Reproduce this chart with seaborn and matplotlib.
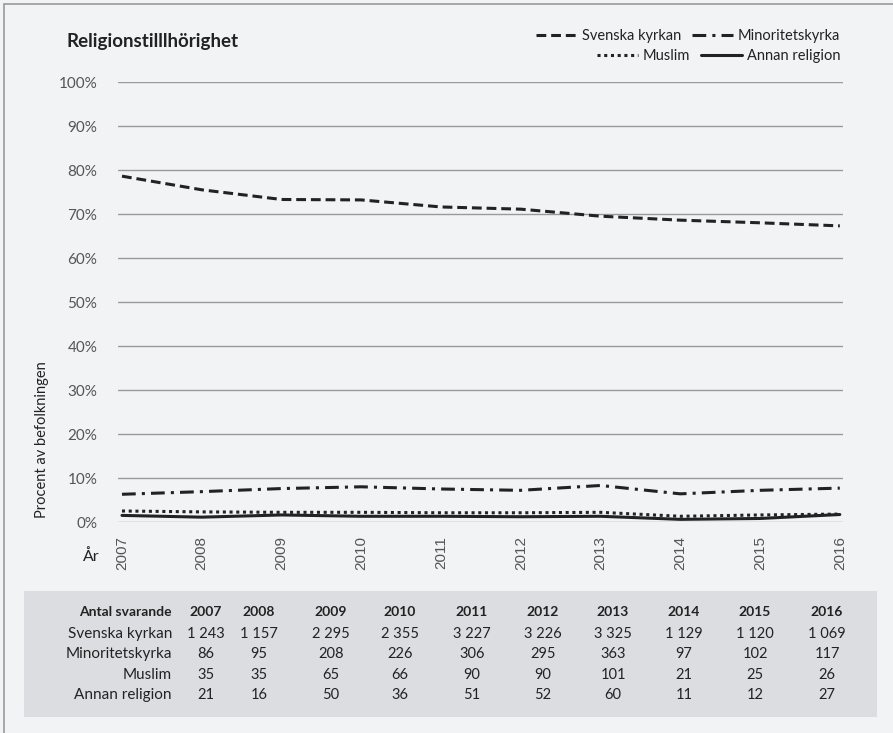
import numpy as np
import pandas as pd
import matplotlib
matplotlib.use("Agg")
import matplotlib.pyplot as plt
import seaborn as sns
from matplotlib.patches import Rectangle
from matplotlib.lines import Line2D

# ------------------------------------------------------------
# Data
# ------------------------------------------------------------
years = [2007, 2008, 2009, 2010, 2011, 2012, 2013, 2014, 2015, 2016]

svenska_kyrkan = [78.6, 75.5, 73.3, 73.2, 71.6, 71.1, 69.5, 68.6, 68.0, 67.3]
minoritetskyrka = [6.3, 6.9, 7.6, 8.0, 7.5, 7.2, 8.3, 6.4, 7.2, 7.7]
muslim = [2.5, 2.3, 2.2, 2.2, 2.1, 2.1, 2.2, 1.3, 1.6, 1.8]
annan_religion = [1.5, 1.1, 1.6, 1.3, 1.3, 1.2, 1.3, 0.6, 0.8, 1.7]

series_names = ["Svenska kyrkan", "Minoritetskyrka", "Muslim", "Annan religion"]

# Number of respondents (table under the chart)
n_svenska = ["1 243", "1 157", "2 295", "2 355", "3 227", "3 226", "3 325", "1 129", "1 120", "1 069"]
n_minoritet = ["86", "95", "208", "226", "306", "295", "363", "97", "102", "117"]
n_muslim = ["35", "35", "65", "66", "90", "90", "101", "21", "25", "26"]
n_annan = ["21", "16", "50", "36", "51", "52", "60", "11", "12", "27"]

y_ticks = list(range(0, 101, 10))

# ------------------------------------------------------------
# Styling
# ------------------------------------------------------------
sns.set_theme(style="white")
plt.rcParams["font.family"] = ["Lato", "DejaVu Sans"]

BG = "#f2f3f5"
TABLE_BG = "#dcdde0"
GRID = "#9a9a9a"
INK = "#222222"
TICK = "#555555"

df = pd.DataFrame({
    "year": years * 4,
    "value": svenska_kyrkan + minoritetskyrka + muslim + annan_religion,
    "serie": sum([[s] * len(years) for s in series_names], []),
})

dash_map = {
    "Svenska kyrkan": (3.2, 1.6),
    "Minoritetskyrka": (4.5, 2.0, 1.0, 2.0),
    "Muslim": (1.0, 1.2),
    "Annan religion": "",
}

W, H = 893, 733
fig = plt.figure(figsize=(W / 100, H / 100), dpi=100)
fig.patch.set_facecolor(BG)

# outer border (left/top visible)
fig.patches.append(Rectangle((4 / W, -0.1), 1.2, (H - 4) / H + 0.1,
                             transform=fig.transFigure, fill=False,
                             edgecolor="#999999", lw=1.2, zorder=0))

ax = fig.add_axes([118 / W, 1 - 522 / H, (843 - 118) / W, (522 - 82) / H])
ax.set_facecolor(BG)

sns.lineplot(data=df, x="year", y="value", hue="serie", style="serie",
             palette=[INK] * 4, dashes=dash_map, linewidth=2.2,
             legend=False, ax=ax)

ax.set_xlim(2006.95, 2016.04)
ax.set_ylim(0, 100)
ax.set_yticks(y_ticks)
ax.set_yticklabels([f"{t}%" for t in y_ticks], fontsize=11, color=TICK)
ax.set_xticks(years)
ax.set_xticklabels([str(y) for y in years], rotation=90, fontsize=11,
                   color=TICK, family=["Liberation Sans", "DejaVu Sans"])
ax.tick_params(axis="y", length=0, pad=15)
ax.tick_params(axis="x", length=0, pad=10)
ax.grid(axis="y", color=GRID, lw=1)
ax.set_axisbelow(True)
for s in ax.spines.values():
    s.set_visible(False)
ax.set_xlabel("")
ax.set_ylabel("")

# title, axis labels
fig.text(66 / W, 1 - 41 / H, "Religionstilllhörighet", fontsize=13.5,
         fontweight="bold", color=INK, va="center", ha="left")
fig.text(42 / W, 1 - 440 / H, "Procent av befolkningen", rotation=90,
         fontsize=10.5, color=INK, ha="center", va="center")
fig.text(91 / W, 1 - 557 / H, "År", fontsize=11.5, color=INK,
         ha="center", va="center")

# legend (two right-aligned rows)
def handle(name):
    d = dash_map[name]
    ls = "-" if d == "" else (0, d)
    return Line2D([0], [0], color=INK, lw=2.2, linestyle=ls)

leg_kw = dict(ncol=2, frameon=False, fontsize=10.5, handlelength=2.8,
              handletextpad=0.3, columnspacing=0.8, borderaxespad=0,
              borderpad=0, loc="upper right")
leg1 = fig.legend([handle(n) for n in series_names[:2]], series_names[:2],
                  bbox_to_anchor=(840 / W, 1 - 29 / H), **leg_kw)
leg2 = fig.legend([handle(n) for n in series_names[2:]], series_names[2:],
                  bbox_to_anchor=(840 / W, 1 - 49 / H), **leg_kw)
for leg in (leg1, leg2):
    for t in leg.get_texts():
        t.set_color(INK)

# ------------------------------------------------------------
# Table of respondents
# ------------------------------------------------------------
fig.patches.append(Rectangle((24 / W, 1 - 717 / H), (877 - 24) / W, (717 - 591) / H,
                             transform=fig.transFigure, facecolor=TABLE_BG,
                             edgecolor="none", zorder=1))

col_x = [206, 259, 331, 400, 472, 543, 613, 684, 755, 827]
row_y = [612, 634, 654, 675, 695]
label_x = 172

rows = [
    ("Antal svarande", [str(y) for y in years]),
    ("Svenska kyrkan", n_svenska),
    ("Minoritetskyrka", n_minoritet),
    ("Muslim", n_muslim),
    ("Annan religion", n_annan),
]
for i, (label, vals) in enumerate(rows):
    bold = i == 0
    fs = 10 if bold else 11
    fig.text(label_x / W, 1 - row_y[i] / H, label, fontsize=fs,
             fontweight="bold" if bold else "normal", color=INK,
             ha="right", va="center", zorder=2)
    for x, v in zip(col_x, vals):
        fig.text(x / W, 1 - row_y[i] / H, v, fontsize=10.5 if not bold else fs,
                 fontweight="bold" if bold else "normal", color=INK,
                 ha="center", va="center", zorder=2)

fig.savefig("out.png", dpi=100, facecolor=BG)
